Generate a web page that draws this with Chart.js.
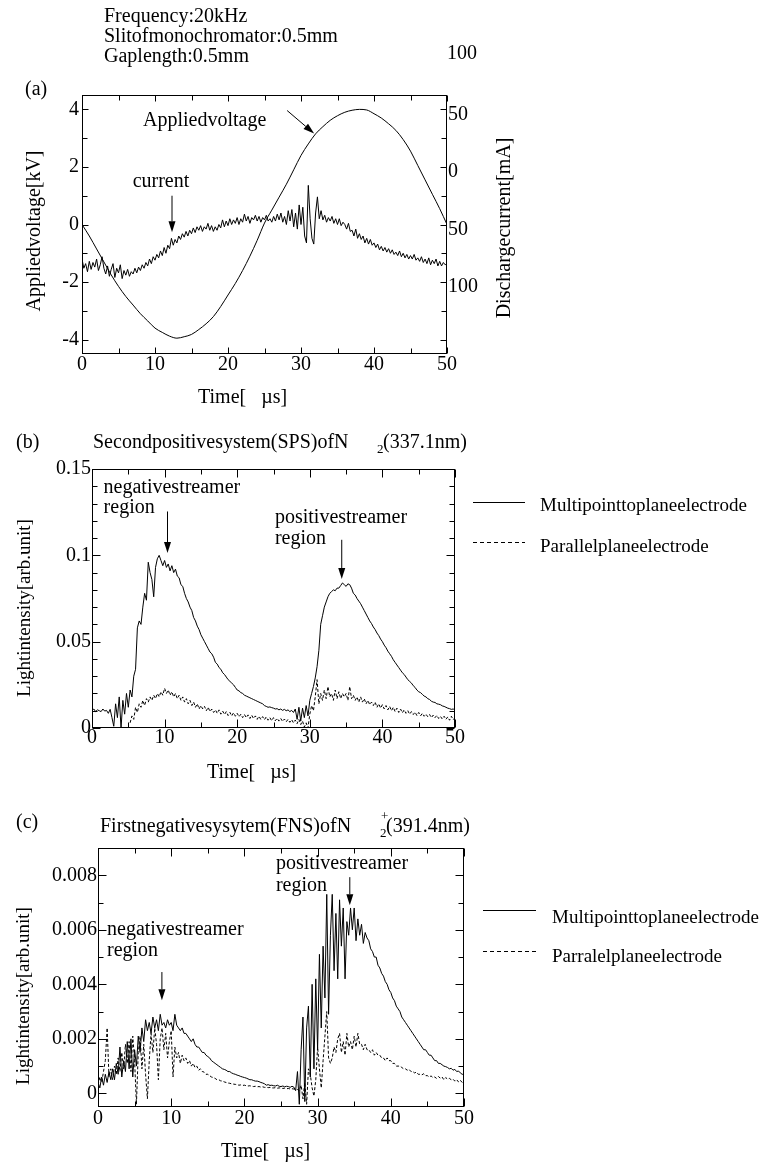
<!DOCTYPE html>
<html>
<head>
<meta charset="utf-8">
<script src="https://cdn.jsdelivr.net/npm/chart.js@4.4.1/dist/chart.umd.min.js"></script>
<style>
  body { margin: 0; background: #fff; }
  #page { position: relative; width: 765px; height: 1165px; background: #fff; }
  canvas { position: absolute; left: 0; }
</style>
</head>
<body>
<div id="page">
  <canvas id="chartA" width="765" height="420" style="top:0"></canvas>
  <canvas id="chartB" width="765" height="370" style="top:420px"></canvas>
  <canvas id="chartC" width="765" height="375" style="top:790px"></canvas>
</div>
<script>
// ---- tick labels ----
const timeTicks = [0, 10, 20, 30, 40, 50];
const timeMinor = [0, 5, 10, 15, 20, 25, 30, 35, 40, 45, 50];
const voltTicks = [-4, -2, 0, 2, 4];
const voltMinor = [-4, -3, -2, -1, 0, 1, 2, 3, 4];
const currentTicks = [50, 0, -50, -100];
const currentTickLabels = ['50', '0', '50', '100'];
const spsTicks = [0, 0.05, 0.1, 0.15];
const spsMinor = [0, 0.01, 0.02, 0.03, 0.04, 0.05, 0.06, 0.07, 0.08, 0.09, 0.1, 0.11, 0.12, 0.13, 0.14, 0.15];
const fnsTicks = [0, 0.002, 0.004, 0.006, 0.008];
const fnsMinor = [0, 0.001, 0.002, 0.003, 0.004, 0.005, 0.006, 0.007, 0.008, 0.009];

// ---- series ----
// applied voltage [kV], one sample per microsecond
const voltage = [0.0, -0.4, -0.85, -1.3, -1.75, -2.15, -2.5, -2.8, -3.1, -3.35, -3.6,
  -3.75, -3.88, -3.95, -3.9, -3.82, -3.65, -3.45, -3.2, -2.85, -2.45,
  -2.05, -1.6, -1.1, -0.55, 0.05, 0.5, 0.95, 1.4, 1.9, 2.4,
  2.8, 3.15, 3.4, 3.62, 3.78, 3.9, 3.97, 4.0, 3.98, 3.85,
  3.7, 3.5, 3.27, 2.95, 2.55, 2.05, 1.55, 1.05, 0.55, 0.0];

// discharge current [mA], 0.25 us samples
const current = [
  -80, -88, -84, -91, -82, -89, -83, -87, -80, -90, -85, -78, -88, -93, -86, -95,
  -89, -84, -96, -88, -92, -85, -97, -90, -94, -89, -95, -91, -93, -88, -92, -87,
  -90, -85, -88, -83, -86, -80, -84, -78, -81, -76, -79, -73, -77, -70, -75, -68,
  -71, -62, -68, -63, -66, -60, -63, -58, -61, -56, -60, -55, -58, -53, -57, -52,
  -55, -51, -56, -52, -54, -49, -55, -51, -56, -52, -55, -50, -53, -46, -52, -47,
  -51, -45, -50, -46, -49, -44, -50, -45, -48, -41, -47, -43, -49, -44, -46, -42,
  -47, -43, -48, -44, -46, -42, -47, -45, -48, -43, -47, -41, -46, -40, -48, -43,
  -50, -38, -47, -37, -52, -40, -54, -33, -50, -35, -60, -66, -16, -45, -62, -67,
  -40, -26, -45, -38, -46, -42, -48, -44, -47, -43, -49, -45, -50, -45, -51, -48,
  -50, -54, -49, -56, -55, -60, -54, -62, -58, -63, -60, -66, -62, -67, -63, -68,
  -66, -70, -67, -72, -69, -73, -70, -74, -71, -75, -72, -76, -74, -77, -73, -78,
  -75, -79, -76, -80, -77, -80, -76, -81, -79, -82, -78, -83, -80, -84, -79, -85,
  -81, -84, -80, -86, -82, -86, -83, -85, -84];

// SPS light intensity, multipoint-to-plane electrode
const spsMulti = [
  0.010, 0.011, 0.0095, 0.0105, 0.010, 0.0095, 0.011, 0.0098, 0.0102, 0.0085, 0.0108, 0.006,
  0.001, 0.014, 0.006, 0.018, 0.0, 0.016, 0.008, 0.02, 0.012, 0.022, 0.018, 0.03,
  0.034, 0.058, 0.062, 0.06, 0.07, 0.078, 0.074, 0.096, 0.09, 0.086, 0.076, 0.093,
  0.098, 0.1, 0.097, 0.094, 0.097, 0.093, 0.095, 0.091, 0.094, 0.09, 0.092, 0.088,
  0.087, 0.083, 0.082, 0.078, 0.075, 0.073, 0.07, 0.068, 0.064, 0.062, 0.059, 0.057,
  0.054, 0.052, 0.05, 0.048, 0.046, 0.044, 0.043, 0.041, 0.038, 0.037, 0.035, 0.034,
  0.032, 0.031, 0.0295, 0.028, 0.027, 0.026, 0.025, 0.0235, 0.022, 0.0215, 0.0205, 0.02,
  0.019, 0.0185, 0.018, 0.0175, 0.017, 0.0165, 0.016, 0.0155, 0.015, 0.0145, 0.014, 0.013,
  0.0125, 0.012, 0.0122, 0.0118, 0.0115, 0.011, 0.0112, 0.0105, 0.011, 0.0102, 0.0108, 0.01,
  0.0105, 0.0095, 0.0102, 0.009, 0.011, 0.005, 0.012, 0.004, 0.0115, 0.006, 0.013, 0.007,
  0.016, 0.02, 0.024, 0.029, 0.0355, 0.045, 0.06, 0.065, 0.07, 0.073, 0.076, 0.078,
  0.079, 0.08, 0.0795, 0.081, 0.081, 0.0825, 0.084, 0.083, 0.082, 0.0835, 0.083, 0.081,
  0.078, 0.077, 0.075, 0.0735, 0.072, 0.07, 0.068, 0.066, 0.064, 0.062, 0.0605, 0.0585,
  0.057, 0.055, 0.0535, 0.0515, 0.05, 0.048, 0.0465, 0.0445, 0.043, 0.0415, 0.0395, 0.038,
  0.0365, 0.035, 0.0335, 0.032, 0.031, 0.0295, 0.028, 0.027, 0.026, 0.0245, 0.0235, 0.022,
  0.021, 0.0205, 0.0195, 0.0185, 0.018, 0.017, 0.0165, 0.0155, 0.015, 0.0148, 0.014, 0.0138,
  0.0135, 0.0128, 0.0125, 0.012, 0.0115, 0.0112, 0.0108, 0.011, 0.0105];

// SPS light intensity, parallel plane electrode
const spsParallel = [
  null, null, null, null, null, null, null, null, null, null, null, null,
  null, null, null, null, null, null, null, null, null, 0.003, 0.007, 0.005,
  0.012, 0.009, 0.014, 0.012, 0.016, 0.013, 0.017, 0.015, 0.018, 0.016, 0.019, 0.017,
  0.02, 0.018, 0.021, 0.019, 0.023, 0.02, 0.022, 0.019, 0.021, 0.018, 0.02, 0.017,
  0.019, 0.016, 0.018, 0.015, 0.017, 0.014, 0.016, 0.013, 0.015, 0.012, 0.014, 0.011,
  0.013, 0.011, 0.0125, 0.01, 0.012, 0.0095, 0.011, 0.009, 0.0105, 0.0085, 0.0105, 0.008,
  0.0098, 0.0078, 0.0095, 0.0072, 0.009, 0.007, 0.0088, 0.0068, 0.0085, 0.0065, 0.008, 0.006,
  0.0078, 0.006, 0.0076, 0.0055, 0.0074, 0.0055, 0.007, 0.005, 0.0068, 0.005, 0.0066, 0.0048,
  0.0064, 0.0045, 0.006, 0.0042, 0.006, 0.0042, 0.0056, 0.004, 0.0055, 0.0038, 0.0052, 0.0036,
  0.005, 0.0033, 0.0048, 0.003, 0.0046, 0.0025, 0.005, 0.002, 0.004, 0.0005, 0.003, 0.0,
  0.008, 0.013, 0.01, 0.018, 0.028, 0.014, 0.02, 0.016, 0.022, 0.017, 0.024, 0.018,
  0.02, 0.016, 0.022, 0.017, 0.021, 0.017, 0.02, 0.018, 0.02, 0.016, 0.024, 0.017,
  0.019, 0.016, 0.018, 0.015, 0.018, 0.015, 0.017, 0.014, 0.016, 0.0135, 0.015, 0.013,
  0.015, 0.012, 0.014, 0.0115, 0.0135, 0.011, 0.013, 0.0105, 0.0125, 0.01, 0.012, 0.0095,
  0.0115, 0.009, 0.011, 0.0088, 0.0105, 0.0085, 0.01, 0.008, 0.0095, 0.0078, 0.0092, 0.0072,
  0.009, 0.007, 0.0085, 0.0068, 0.008, 0.0065, 0.0078, 0.006, 0.0075, 0.006, 0.0073, 0.0055,
  0.0067, 0.0052, 0.0068, 0.005, 0.0064, 0.0045, 0.0068, 0.0048, 0.006];

// FNS light intensity, multipoint-to-plane electrode
const fnsMulti = [
  0.0004, 0.0002, 0.0006, 0.0003, 0.0007, 0.0004, 0.0008, 0.0005, 0.0009, 0.0005, 0.0011, 0.0007,
  0.0017, 0.0006, 0.0012, 0.0008, 0.0019, 0.0009, 0.002, 0.0006, 0.0016, 0.001, 0.0021, 0.0015,
  0.0024, 0.0019, 0.0027, 0.0023, 0.0026, 0.0022, 0.0028, 0.0024, 0.0027, 0.0023, 0.0029, 0.0025,
  0.0026, 0.0024, 0.0027, 0.0025, 0.0026, 0.0023, 0.0029, 0.0025, 0.0024, 0.0023, 0.0024, 0.0022,
  0.0022, 0.0021, 0.002, 0.0019, 0.002, 0.0018, 0.0017, 0.0017, 0.0016, 0.0015, 0.0015, 0.0014,
  0.00135, 0.0013, 0.0012, 0.00115, 0.0011, 0.00105, 0.001, 0.00095, 0.0009, 0.00088, 0.00085, 0.0008,
  0.0008, 0.00075, 0.00072, 0.0007, 0.00067, 0.00065, 0.00062, 0.0006, 0.00058, 0.00056, 0.00053, 0.0005,
  0.0005, 0.00047, 0.00045, 0.00045, 0.00043, 0.0004, 0.00038, 0.00035, 0.0003, 0.00032, 0.00029, 0.0003,
  0.00028, 0.00027, 0.0003, 0.00026, 0.00025, 0.00027, 0.00024, 0.00026, 0.00025, 0.00022, 0.00026, 0.00023,
  0.0001, 0.0008, -0.0004, 0.0016, 0.0028, -0.0003, 0.0024, 0.0032, 0.0006, 0.004, 0.0009, 0.0042,
  0.0016, 0.0051, 0.0024, 0.0054, 0.0035, 0.0073, 0.0029, 0.0058, 0.0073, 0.0045, 0.0066, 0.0042,
  0.0071, 0.0054, 0.0068, 0.0042, 0.0063, 0.0058, 0.0068, 0.006, 0.0068, 0.0056, 0.0064, 0.0058,
  0.0062, 0.0055, 0.0059, 0.0057, 0.0056, 0.0053, 0.0052, 0.005, 0.005, 0.0047, 0.0046, 0.0044,
  0.0043, 0.0041, 0.004, 0.0038, 0.0037, 0.0035, 0.0034, 0.0032, 0.0031, 0.003, 0.0028, 0.0027,
  0.0026, 0.0025, 0.0024, 0.0023, 0.0022, 0.0021, 0.002, 0.0019, 0.0018, 0.0017, 0.0016, 0.0016,
  0.0015, 0.0014, 0.0014, 0.0013, 0.0012, 0.0012, 0.0011, 0.0011, 0.00105, 0.001, 0.00098, 0.00095,
  0.0009, 0.00092, 0.00085, 0.00088, 0.0008, 0.00082, 0.00075, 0.0007, 0.0007];

// FNS light intensity, parallel plane electrode
const fnsParallel = [
  0.0003, 0.0006, 0.0004, 0.0008, 0.0012, 0.0024, 0.0006, 0.0009, 0.0005, 0.001, 0.0007, 0.0013,
  0.0008, 0.0015, 0.0009, 0.0018, 0.0011, 0.0019, 0.0008, 0.0021, 0.0012, -0.0004, 0.0015, 0.0021,
  0.0009, 0.0018, 0.0007, -0.0002, 0.0012, 0.0022, 0.0015, 0.0024, 0.0018, 0.0005, 0.002, 0.0024,
  0.0016, 0.0022, 0.0013, 0.0019, 0.0023, 0.0006, 0.0017, 0.0013, 0.0015, 0.0011, 0.0014, 0.0012,
  0.0013, 0.0011, 0.0012, 0.001, 0.0011, 0.00095, 0.001, 0.00085, 0.0009, 0.0008, 0.00078, 0.0007,
  0.0007, 0.00065, 0.0006, 0.00058, 0.00055, 0.0005, 0.0005, 0.00046, 0.00045, 0.00042, 0.0004, 0.00038,
  0.00037, 0.00035, 0.00034, 0.00033, 0.00032, 0.0003, 0.00031, 0.00029, 0.0003, 0.00028, 0.00027, 0.00028,
  0.00026, 0.00025, 0.00026, 0.00024, 0.00025, 0.00023, 0.00024, 0.00022, 0.00022, 0.00021, 0.00022, 0.0002,
  0.0002, 0.00021, 0.00019, 0.0002, 0.0002, 0.00018, 0.00019, 0.00017, 0.00018, 0.00016, 0.00017, 0.00016,
  0.00015, 0.00014, 0.0001, 0.0003, -0.0002, 0.0004, -0.0004, 0.0009, 0.0007, 0.0002, -0.0001, 0.0005,
  0.0017, 0.0009, 0.0002, 0.0012, 0.0021, 0.003, 0.0013, 0.0011, 0.0013, 0.0017, 0.0015, 0.002,
  0.0022, 0.0015, 0.0019, 0.0014, 0.0022, 0.0017, 0.0019, 0.0016, 0.0021, 0.0017, 0.0022, 0.0018,
  0.0018, 0.0016, 0.0018, 0.0016, 0.0016, 0.0015, 0.0016, 0.0014, 0.0015, 0.0014, 0.0014, 0.0013,
  0.0013, 0.0012, 0.0013, 0.0012, 0.0012, 0.0011, 0.0011, 0.001, 0.001, 0.001, 0.00095, 0.0009,
  0.0009, 0.00085, 0.00088, 0.0008, 0.0008, 0.00075, 0.00078, 0.0007, 0.0007, 0.00068, 0.00072, 0.00065,
  0.00065, 0.0006, 0.00064, 0.00058, 0.0006, 0.00055, 0.00062, 0.00056, 0.0006, 0.0005, 0.00058, 0.00052,
  0.00055, 0.0005, 0.00052, 0.00045, 0.0005, 0.00042, 0.00048, 0.0004, 0.0004];

// sample times [us]
const timeCoarse = voltage.map((v, i) => i);
const timeFine = current.map((v, i) => i * 0.25);

const FONT = 'Liberation Serif';

function points(times, values) {
    return values.map((v, i) => ({ x: times[i], y: v }));
}

function axis(o) {
    return {
        type: 'linear',
        position: o.position,
        min: o.min,
        max: o.max,
        afterBuildTicks: function (s) {
            s.ticks = o.ticks.map(v => ({ value: v }));
        },
        afterFit: function (s) {
            if (o.width !== undefined) s.width = o.width;
            if (o.height !== undefined) s.height = o.height;
        },
        grid: { display: false, drawTicks: false },
        border: { display: false },
        ticks: {
            font: { family: FONT, size: 20, lineHeight: 1 },
            color: '#000',
            padding: o.pad,
            labelOffset: o.labelOffset || 0,
            autoSkip: false,
            maxRotation: 0,
            callback: o.label || (v => String(v))
        }
    };
}

function drawText(ctx, t, top) {
    ctx.save();
    ctx.font = (t.size || 20) + 'px "' + FONT + '"';
    ctx.fillStyle = '#000';
    ctx.textBaseline = 'middle';
    if (t.rot) {
        ctx.translate(t.x, t.y - top);
        ctx.rotate(-Math.PI / 2);
        ctx.textAlign = 'center';
        ctx.fillText(t.text, 0, 0);
    } else {
        ctx.textAlign = t.align || 'left';
        ctx.fillText(t.text, t.x, t.y - top);
    }
    ctx.restore();
}

function drawArrow(ctx, x0, y0, x1, y1) {
    const ang = Math.atan2(y1 - y0, x1 - x0);
    const hl = 11, hw = 3.5;
    const c = Math.cos(ang), s = Math.sin(ang);
    ctx.beginPath();
    ctx.moveTo(x0, y0);
    ctx.lineTo(x1 - hl * c, y1 - hl * s);
    ctx.stroke();
    ctx.beginPath();
    ctx.moveTo(x1, y1);
    ctx.lineTo(x1 - hl * c + hw * s, y1 - hl * s - hw * c);
    ctx.lineTo(x1 - hl * c - hw * s, y1 - hl * s + hw * c);
    ctx.closePath();
    ctx.fill();
}

// frame, inward ticks, free text, legends and arrows
const panelDecor = {
    id: 'panelDecor',
    afterDraw: function (chart, args, o) {
        const ctx = chart.ctx;
        const a = chart.chartArea;
        const xs = chart.scales.x, ys = chart.scales.y;
        const L = Math.round(a.left) + 0.5, R = Math.round(a.right) - 0.5;
        const T = Math.round(a.top) + 0.5, B = Math.round(a.bottom) - 0.5;

        ctx.save();
        ctx.strokeStyle = '#000';
        ctx.fillStyle = '#000';
        ctx.lineWidth = 1;
        ctx.strokeRect(L, T, R - L, B - T);

        ctx.beginPath();
        o.xMinor.forEach(v => {
            const px = Math.round(xs.getPixelForValue(v)) + 0.5;
            const len = o.xMajor.includes(v) ? o.majorLen : o.minorLen;
            ctx.moveTo(px, B); ctx.lineTo(px, B - len);
            ctx.moveTo(px, T); ctx.lineTo(px, T + len);
        });
        o.yMinor.forEach(v => {
            const py = Math.round(ys.getPixelForValue(v)) + 0.5;
            const len = o.yMajor.includes(v) ? o.majorLen : o.minorLen;
            ctx.moveTo(L, py); ctx.lineTo(L + len, py);
            ctx.moveTo(R, py); ctx.lineTo(R - len, py);
        });
        ctx.stroke();

        (o.legend || []).forEach(l => {
            ctx.save();
            ctx.setLineDash(l.dash ? [4, 3] : []);
            ctx.beginPath();
            ctx.moveTo(l.x0, l.y - o.top + 0.5);
            ctx.lineTo(l.x1, l.y - o.top + 0.5);
            ctx.stroke();
            ctx.restore();
        });

        (o.texts || []).forEach(t => drawText(ctx, t, o.top));

        (o.notes || []).forEach(n => {
            drawText(ctx, { text: n.text, x: xs.getPixelForValue(n.t), y: ys.getPixelForValue(n.v), size: 20 }, 0);
        });
        (o.arrows || []).forEach(n => {
            drawArrow(ctx, xs.getPixelForValue(n.t0), ys.getPixelForValue(n.v0),
                xs.getPixelForValue(n.t1), ys.getPixelForValue(n.v1));
        });
        ctx.restore();
    }
};

function lineSet(data, dashed, yAxisID) {
    return {
        data: data,
        borderColor: '#000',
        borderWidth: 1,
        borderDash: dashed ? [3, 2] : [],
        pointRadius: 0,
        tension: 0,
        spanGaps: false,
        yAxisID: yAxisID || 'y'
    };
}

function baseOptions(padding, scales, decor) {
    return {
        responsive: false,
        animation: false,
        devicePixelRatio: 1,
        layout: { padding: padding },
        scales: scales,
        plugins: {
            legend: { display: false },
            tooltip: { enabled: false },
            panelDecor: decor
        }
    };
}

Chart.register(panelDecor);

// (a) applied voltage and discharge current
const voltSet = lineSet(points(timeCoarse, voltage), false, 'y');
voltSet.cubicInterpolationMode = 'monotone';
new Chart(document.getElementById('chartA').getContext('2d'), {
    type: 'line',
    data: { datasets: [voltSet, lineSet(points(timeFine, current), false, 'y2')] },
    options: baseOptions({ top: 95, left: 0, right: 0, bottom: 0 }, {
        x: axis({ position: 'bottom', min: 0, max: 50, ticks: timeTicks, height: 66, pad: 1 }),
        y: axis({ position: 'left', min: -4.5, max: 4.5, ticks: voltTicks, width: 82, pad: 3 }),
        y2: axis({ position: 'right', min: -162.5, max: 62.5, ticks: currentTicks, width: 318, pad: 1, labelOffset: 5,
            label: v => currentTickLabels[currentTicks.indexOf(v)] })
    }, {
        top: 0,
        xMajor: timeTicks, xMinor: timeMinor, yMajor: voltTicks, yMinor: voltMinor,
        majorLen: 6, minorLen: 5,
        texts: [
            { text: 'Frequency:20kHz', x: 104, y: 17 },
            { text: 'Slitofmonochromator:0.5mm', x: 104, y: 37 },
            { text: 'Gaplength:0.5mm', x: 104, y: 57 },
            { text: '100', x: 447, y: 54 },
            { text: '(a)', x: 25, y: 90 },
            { text: 'Appliedvoltage[kV]', x: 35, y: 231, rot: true },
            { text: 'Dischargecurrent[mA]', x: 505, y: 228, rot: true },
            { text: 'Time[   \u00b5s]', x: 198, y: 398 }
        ],
        notes: [
            { text: 'Appliedvoltage', t: 8.36, v: 3.62 },
            { text: 'current', t: 6.94, v: 1.47 }
        ],
        arrows: [
            { t0: 28.1, v0: 3.96, t1: 31.8, v1: 3.16 },
            { t0: 12.33, v0: 1.0, t1: 12.33, v1: -0.27 }
        ]
    })
});

// (b) second positive system
new Chart(document.getElementById('chartB').getContext('2d'), {
    type: 'line',
    data: { datasets: [lineSet(points(timeFine, spsMulti), false), lineSet(points(timeFine, spsParallel), true)] },
    options: baseOptions({ top: 49, left: 0, right: 310, bottom: 0 }, {
        x: axis({ position: 'bottom', min: 0, max: 50, ticks: timeTicks, height: 62, pad: 0 }),
        y: axis({ position: 'left', min: 0, max: 0.15, ticks: spsTicks, width: 92, pad: 1 })
    }, {
        top: 420,
        xMajor: timeTicks, xMinor: timeMinor, yMajor: spsTicks, yMinor: spsMinor,
        majorLen: 8, minorLen: 5,
        texts: [
            { text: '(b)', x: 16, y: 443 },
            { text: 'Secondpositivesystem(SPS)ofN', x: 93, y: 443 },
            { text: '2', x: 377, y: 450, size: 13 },
            { text: '(337.1nm)', x: 383, y: 443 },
            { text: 'Lightintensity[arb.unit]', x: 25, y: 608, rot: true, size: 19 },
            { text: 'Time[   \u00b5s]', x: 207, y: 773 },
            { text: 'Multipointtoplaneelectrode', x: 540, y: 506, size: 19 },
            { text: 'Parallelplaneelectrode', x: 540, y: 547, size: 19 }
        ],
        legend: [
            { x0: 473, x1: 525, y: 502 },
            { x0: 473, x1: 525, y: 542, dash: true }
        ],
        notes: [
            { text: 'negativestreamer', t: 1.6, v: 0.1393 },
            { text: 'region', t: 1.6, v: 0.1274 },
            { text: 'positivestreamer', t: 25.2, v: 0.1216 },
            { text: 'region', t: 25.2, v: 0.1094 }
        ],
        arrows: [
            { t0: 10.4, v0: 0.1254, t1: 10.4, v1: 0.1013 },
            { t0: 34.4, v0: 0.109, t1: 34.4, v1: 0.0863 }
        ]
    })
});

// (c) first negative system
new Chart(document.getElementById('chartC').getContext('2d'), {
    type: 'line',
    data: { datasets: [lineSet(points(timeFine, fnsMulti), false), lineSet(points(timeFine, fnsParallel), true)] },
    options: baseOptions({ top: 58, left: 0, right: 301, bottom: 0 }, {
        x: axis({ position: 'bottom', min: 0, max: 50, ticks: timeTicks, height: 58, pad: 2 }),
        y: axis({ position: 'left', min: -0.0005, max: 0.009, ticks: fnsTicks, width: 98, pad: 1 })
    }, {
        top: 790,
        xMajor: timeTicks, xMinor: timeMinor, yMajor: fnsTicks, yMinor: fnsMinor,
        majorLen: 8, minorLen: 5,
        texts: [
            { text: '(c)', x: 16, y: 823 },
            { text: 'Firstnegativesysytem(FNS)ofN', x: 100, y: 827 },
            { text: '2', x: 380, y: 834, size: 13 },
            { text: '+', x: 381, y: 817, size: 13 },
            { text: '(391.4nm)', x: 386, y: 827 },
            { text: 'Lightintensity[arb.unit]', x: 24, y: 996, rot: true, size: 19 },
            { text: 'Time[   \u00b5s]', x: 221, y: 1152 },
            { text: 'Multipointtoplaneelectrode', x: 552, y: 918, size: 19 },
            { text: 'Parralelplaneelectrode', x: 552, y: 957, size: 19 }
        ],
        legend: [
            { x0: 483, x1: 536, y: 910 },
            { x0: 483, x1: 536, y: 951, dash: true }
        ],
        notes: [
            { text: 'positivestreamer', t: 24.3, v: 0.00842 },
            { text: 'region', t: 24.3, v: 0.00763 },
            { text: 'negativestreamer', t: 1.23, v: 0.006 },
            { text: 'region', t: 1.23, v: 0.00522 }
        ],
        arrows: [
            { t0: 34.4, v0: 0.00793, t1: 34.4, v1: 0.0069 },
            { t0: 8.73, v0: 0.00445, t1: 8.73, v1: 0.00342 }
        ]
    })
});
</script>
</body>
</html>
